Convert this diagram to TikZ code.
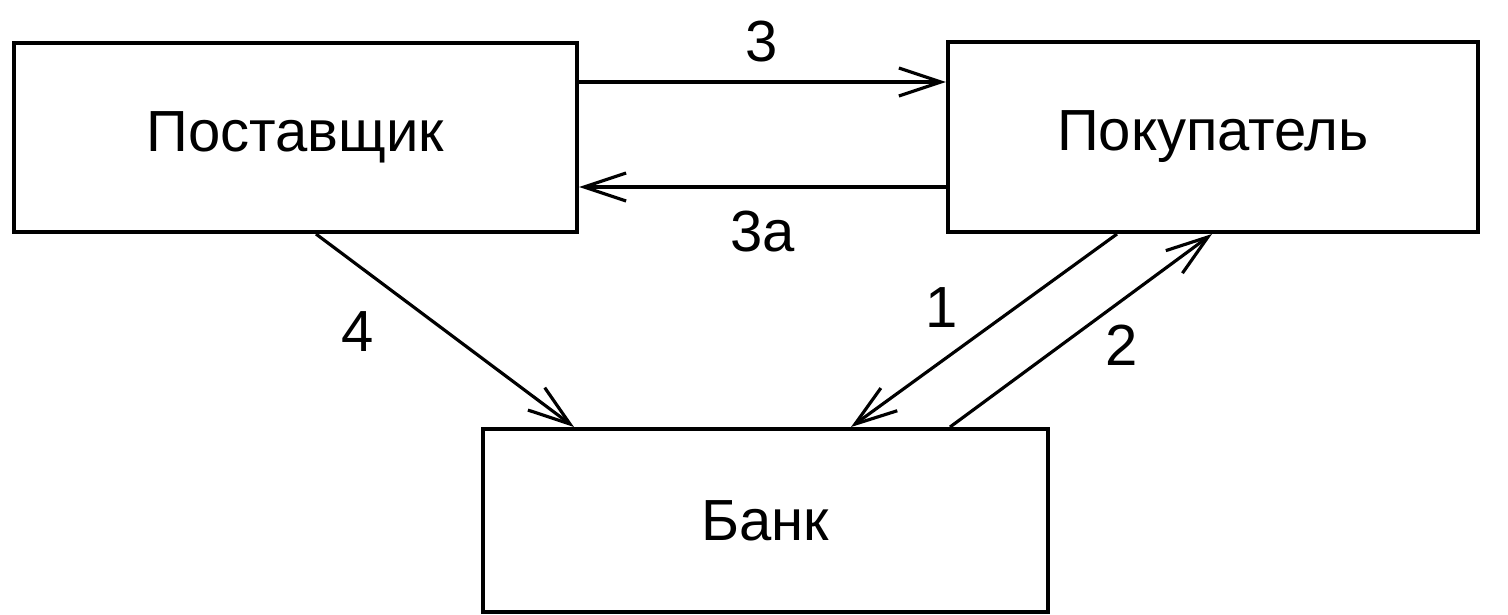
\documentclass[tikz,border=0pt]{standalone}
\usepackage{fontspec}
\setmainfont{Liberation Sans}
\usepackage{tikz}
\usetikzlibrary{arrows.meta}

\begin{document}
\begin{tikzpicture}[x=0.01cm,y=-0.01cm,
  box/.style={draw,line width=1.1pt,inner sep=0pt,font=\fontsize{16.5}{20}\selectfont},
  arr/.style={line width=0.9pt,-{Straight Barb[length=4.2mm,width=2.8mm,line width=0.9pt]}},
  lbl/.style={font=\fontsize{16.5}{20}\selectfont}]
\useasboundingbox (0,0) rectangle (1508,614);
% participants
\node[box,minimum width=5.63cm,minimum height=1.89cm] (post) at (295.5,137.5) {Поставщик};
\node[box,minimum width=5.30cm,minimum height=1.90cm] (pokup) at (1213,137) {Покупатель};
\node[box,minimum width=5.65cm,minimum height=1.83cm] (bank) at (765.5,520.5) {Банк};
% flows between supplier and buyer
\draw [arr] (post.east |- 0,82) -- (pokup.west |- 0,82);
\draw [arr] (pokup.west |- 0,187) -- (post.east |- 0,187);
\node[lbl] (l3) at (762,42) {3};
\node[lbl] (l3a) at (763,232) {3а};
% flows to and from the bank
\draw [arr] (post.south -| 316,0) -- (bank.north -| 574,0);
\draw [arr] (pokup.south -| 1117,0) -- (bank.north -| 851,0);
\draw [arr] (bank.north -| 950,0) -- (pokup.south -| 1212,0);
\node[lbl] (l4) at (358,332) {4};
\node[lbl] (l1) at (942,308) {1};
\node[lbl] (l2) at (1122,345) {2};
\end{tikzpicture}
\end{document}
